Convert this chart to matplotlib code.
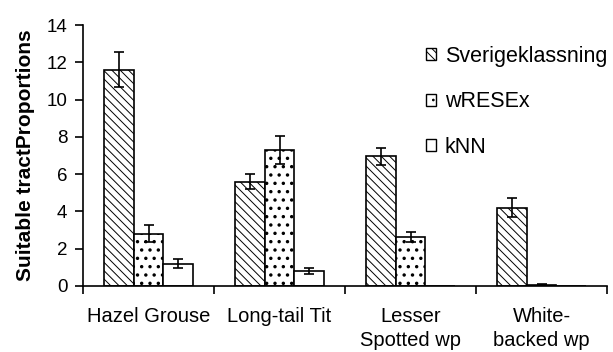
import numpy as np
import matplotlib
matplotlib.use("Agg")
import matplotlib.pyplot as plt

plt.rcParams['font.family'] = ['Liberation Sans', 'DejaVu Sans']
plt.rcParams['hatch.linewidth'] = 0.7
plt.rcParams['hatch.color'] = 'black'

categories = ["Hazel Grouse", "Long-tail Tit", "Lesser\nSpotted wp", "White-\nbacked wp"]
series = ["Sverigeklassning", "wRESEx", "kNN"]
sverige = [11.6, 5.6, 6.95, 4.2]
sverige_err = [0.95, 0.42, 0.47, 0.52]
wresex = [2.8, 7.3, 2.65, 0.07]
wresex_err = [0.45, 0.75, 0.27, 0.04]
knn = [1.2, 0.8, 0.0, 0.0]
knn_err = [0.23, 0.17, np.nan, np.nan]

values = [sverige, wresex, knn]
errors = [sverige_err, wresex_err, knn_err]
hatches = [r'\\\\', '..', '']
hatch_lw = [0.7, 1.25, 0.7]

fig = plt.figure(figsize=(6.13, 3.52), dpi=100)
ax = fig.add_axes([83/613, 1-286/352, (607-83)/613, (286-25)/352])

x = np.arange(len(categories))
w = 0.225
for i, (vals, errs, h, name) in enumerate(zip(values, errors, hatches, series)):
    pos = x + (i - 1) * w
    with plt.rc_context({'hatch.linewidth': hatch_lw[i]}):
        bars = ax.bar(pos, vals, width=w, color='white', edgecolor='black', linewidth=1.2,
                      hatch=h, label=name, zorder=2)
    for b in bars:
        if hasattr(b, 'set_hatch_linewidth'):
            b.set_hatch_linewidth(hatch_lw[i])
    ax.errorbar(pos, vals, yerr=errs, fmt='none', ecolor='black', elinewidth=1.2,
                capsize=3.6, capthick=1.2, zorder=3)

ax.set_xlim(-0.5, len(categories) - 0.5)
ax.set_ylim(0, 14)
ax.set_yticks(np.arange(0, 15, 2))
ax.set_xticks(x)
ax.set_xticklabels(categories, fontsize=14.5, linespacing=1.35)
ax.set_xticks(np.arange(-0.5, len(categories)), minor=True)
ax.tick_params(axis='x', which='major', length=0, pad=15)
ax.tick_params(axis='x', which='minor', length=5.8, width=1.2, direction='out')
ax.tick_params(axis='y', labelsize=13.5, length=5.8, width=1.2, direction='out', pad=5.5)
for s in ['top', 'right']:
    ax.spines[s].set_visible(False)
for s in ['left', 'bottom']:
    ax.spines[s].set_linewidth(1.2)

ax.set_ylabel("Suitable tractProportions", fontsize=15, fontweight='bold', labelpad=8)

leg = ax.legend(loc='upper left', bbox_to_anchor=(426/613, 1-46/352),
                bbox_transform=fig.transFigure, frameon=False, fontsize=15.5,
                handlelength=0.48, handleheight=0.48, handletextpad=0.4,
                labelspacing=1.13, borderpad=0, borderaxespad=0)
for p in leg.get_patches():
    p.set_linewidth(1.0)

fig.savefig("out.png", dpi=100)
